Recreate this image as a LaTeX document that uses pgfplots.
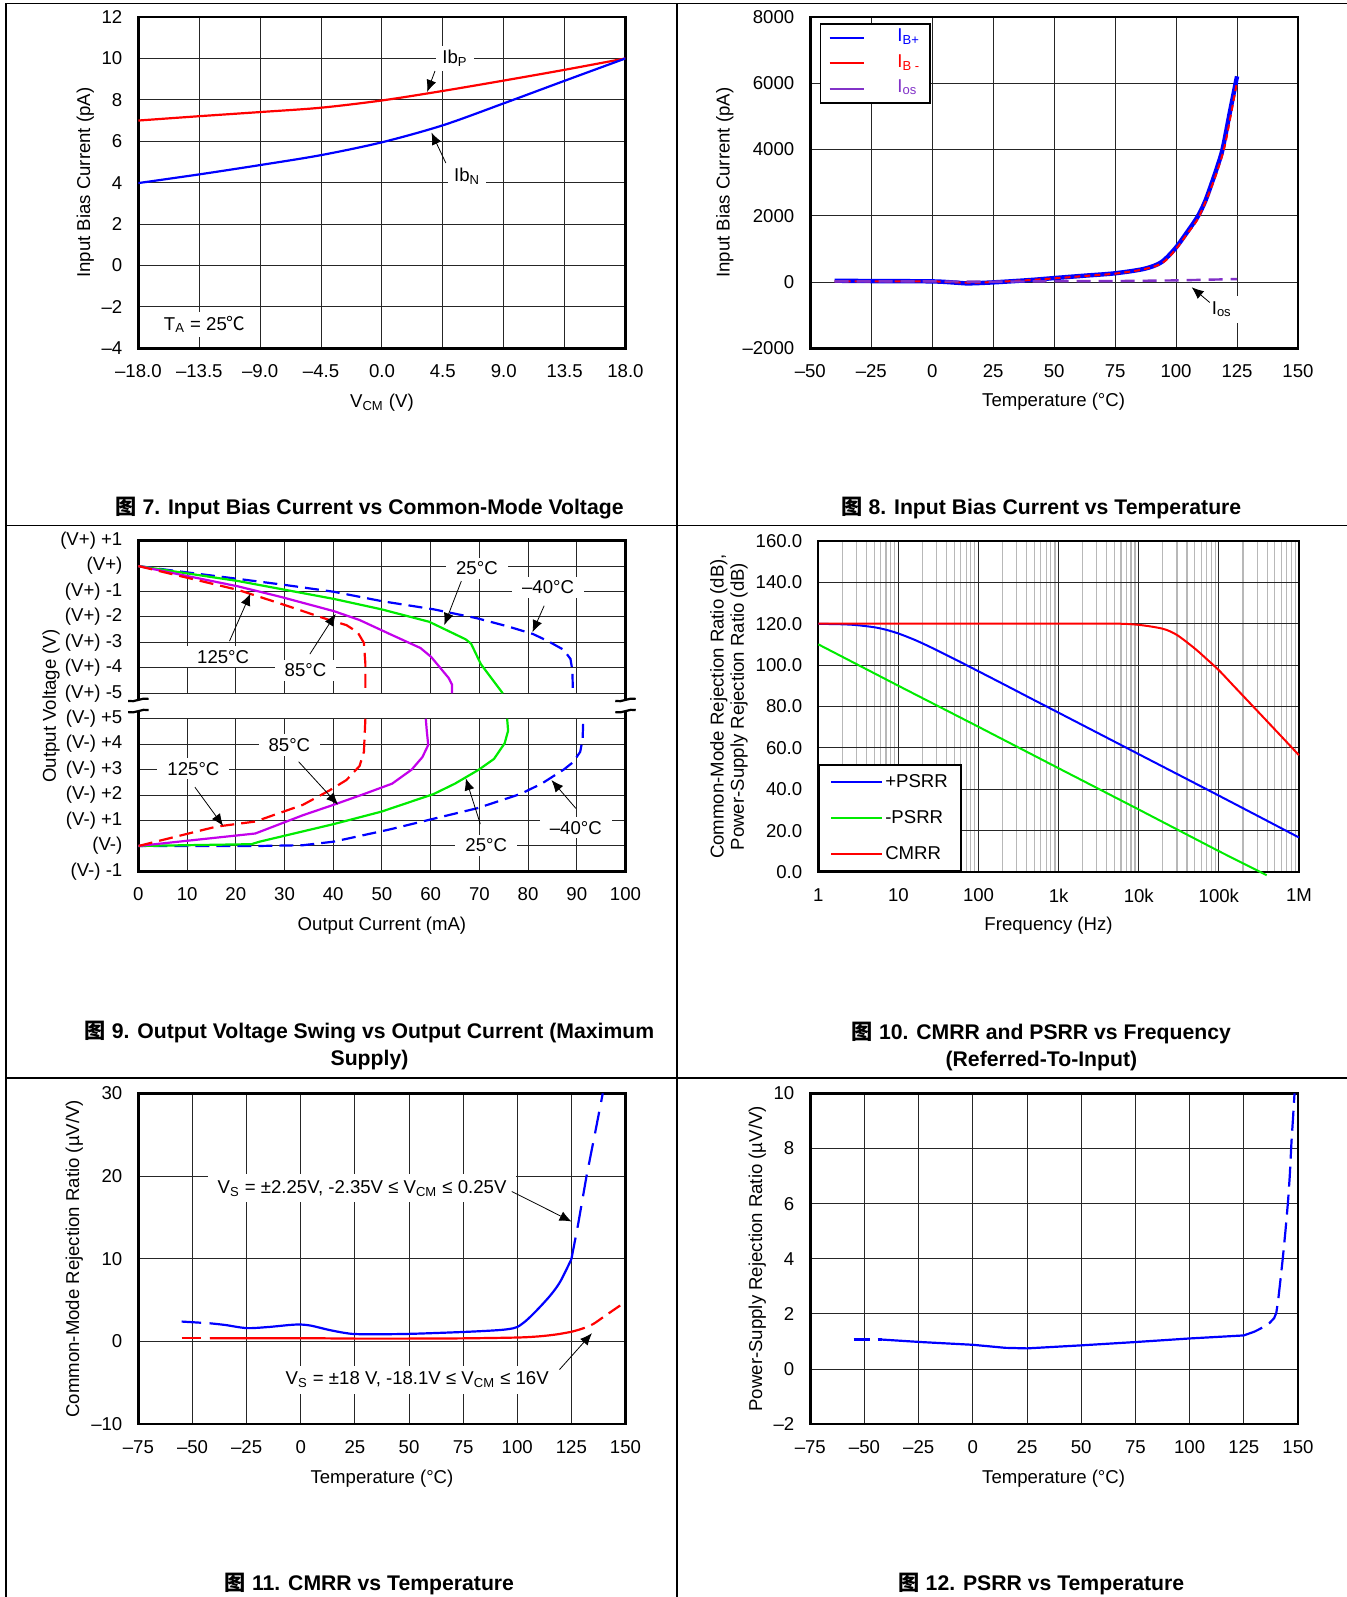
\documentclass[border=0pt]{standalone}
\usepackage{fontspec}
\setmainfont{Liberation Sans}
\newfontfamily\cjk{Noto Sans CJK SC}
\usepackage{pgfplots}
\pgfplotsset{compat=1.18}
\usetikzlibrary{arrows.meta}
\definecolor{cblue}{RGB}{0,0,255}
\definecolor{cred}{RGB}{255,0,0}
\definecolor{cgreen}{RGB}{0,235,0}
\definecolor{cviolet}{RGB}{195,0,235}
\definecolor{cpurple}{RGB}{130,50,200}
\newcommand{\fs}{\fontsize{9.3}{11}\selectfont}
\newcommand{\tfs}{\fontsize{10.6}{13.25}\selectfont\bfseries}
\pgfplotsset{
  refax/.style={
    scale only axis, anchor=south west,
    axis line style={line width=1.2pt},
    grid=major,
    major grid style={black!85, line width=0.5pt},
    major tick length=0pt, minor tick length=0pt,
    scaled ticks=false,
    ticklabel style={font=\fs},
    label style={font=\fs},
    yticklabel style={anchor=east, xshift=-4.5pt},
    xticklabel style={anchor=north, yshift=-4.6pt},
    xlabel style={anchor=center},
    ylabel style={anchor=center},
  },
}
\tikzset{
  ann/.style={fill=white, font=\fs, inner xsep=3pt, inner ysep=2pt},
  arr/.style={-{Latex[length=6pt,width=5pt]}, line width=0.4pt, black},
  brk/.style={line width=1.1pt, black},
}
\begin{document}
\begin{tikzpicture}
\path[use as bounding box] (0pt,0pt) rectangle (673.5pt,-798.5pt);
\fill[white] (0pt,0pt) rectangle (673.5pt,-798.5pt);
% table frame
\draw[line width=0.75pt] (3pt,-798.5pt) -- (3pt,-1.65pt) -- (673.5pt,-1.65pt);
\draw[line width=0.75pt] (338.5pt,-1.65pt) -- (338.5pt,-798.5pt);
\draw[line width=0.75pt] (3pt,-262.85pt) -- (673.5pt,-262.85pt);
\draw[line width=0.75pt] (3pt,-539pt) -- (673.5pt,-539pt);

% ================= Fig 7 =================
\begin{axis}[refax, at={(69.2pt,-174.15pt)}, width=243.55pt, height=165.65pt,
  xmin=-18, xmax=18, ymin=-4, ymax=12,
  xtick={-18,-13.5,-9,-4.5,0,4.5,9,13.5,18},
  xticklabels={–18.0,–13.5,–9.0,–4.5,0.0,4.5,9.0,13.5,18.0},
  ytick={-4,-2,0,2,4,6,8,10,12},
  yticklabels={–4,–2,0,2,4,6,8,10,12},
  xlabel={V\textsubscript{CM} (V)},
  ylabel={Input Bias Current (pA)},
  xlabel style={at={(axis description cs:0.5,-0.164)}},
  ylabel style={at={(axis description cs:-0.1088,0.5)}},
]
\addplot[cred, line width=1.1pt, smooth] coordinates {(-18,7.0) (-13.5,7.21) (-9,7.41) (-4.5,7.62) (0,7.97) (4.5,8.43) (9,8.93) (13.5,9.45) (18,10.0)};
\addplot[cblue, line width=1.1pt, smooth] coordinates {(-18,3.98) (-13.5,4.40) (-9,4.85) (-4.5,5.33) (0,5.95) (4.5,6.77) (9,7.83) (13.5,8.92) (18,10.0)};
\node[ann] at (axis cs:5.4,10) {Ib\textsubscript{P}};
\draw[arr] (axis cs:3.92,9.39) -- (axis cs:3.34,8.38);
\node[ann] at (axis cs:6.3,4.3) {Ib\textsubscript{N}};
\draw[arr] (axis cs:4.72,4.95) -- (axis cs:3.66,6.42);
\node[ann] at (axis cs:-13.1,-2.85) {T\textsubscript{A} = 25{\cjk ℃}};
\end{axis}

% ================= Fig 8 =================
\begin{axis}[refax, at={(405.15pt,-174.15pt)}, width=243.85pt, height=165.65pt,
  xmin=-50, xmax=150, ymin=-2000, ymax=8000,
  xtick={-50,-25,0,25,50,75,100,125,150},
  xticklabels={–50,–25,0,25,50,75,100,125,150},
  ytick={-2000,0,2000,4000,6000,8000},
  yticklabels={–2000,0,2000,4000,6000,8000},
  xlabel={Temperature (°C)}, ylabel={Input Bias Current (pA)},
  xlabel style={at={(axis description cs:0.499,-0.161)}},
  ylabel style={at={(axis description cs:-0.1753,0.5)}},
  legend style={at={(axis description cs:0.0195,0.982)}, anchor=north west, draw=black, line width=0.8pt, font=\fs, inner xsep=4pt, inner ysep=1.6pt, row sep=1.7pt, nodes={inner sep=1pt, text height=6.5pt, text depth=2.5pt}},
  legend cell align=left,
  legend image code/.code={\draw[#1, line width=0.9pt, solid] (0pt,0pt) -- (17pt,0pt);},
]
\addplot[cblue, line width=2.2pt, smooth] coordinates {(-40,40) (-25,30) (0,20) (10,-20) (15,-40) (25,-10) (40,60) (50,120) (62,190) (75,265) (87,400) (94,600) (99.6,1010) (104,1450) (108.9,1980) (112,2450) (114.7,3000) (117,3500) (119.1,4020) (122.1,5140) (125,6210)};
\addlegendentry{\hspace{15.5pt}\textcolor{cblue}{I\textsubscript{B+}}}
\addplot[cred, line width=1pt, dash pattern=on 3pt off 2pt, smooth] coordinates {(-40,20) (-25,20) (0,20) (10,-10) (15,-20) (25,0) (40,60) (50,110) (62,180) (75,255) (87,390) (94.5,580) (100,1000) (104.5,1450) (109.3,1960) (115.2,3000) (119.6,4000) (122.6,5100) (125,6050)};
\addlegendentry{\hspace{15.5pt}\textcolor{cred}{I\textsubscript{B -}}}
\addplot[cpurple, line width=1.2pt, dash pattern=on 7pt off 4pt] coordinates {(-40,20) (0,20) (25,10) (50,25) (75,30) (100,50) (125,90)};
\addlegendentry{\hspace{15.5pt}\textcolor{cpurple}{I\textsubscript{os}}}
\node[ann, inner xsep=4pt, inner ysep=3pt] at (axis cs:118.75,-823) {I\textsubscript{os}};
\draw[arr] (axis cs:113.8,-617) -- (axis cs:106.4,-157);
\end{axis}

% ================= Fig 9 =================
\begin{axis}[refax, at={(69.2pt,-435.7pt)}, width=243.55pt, height=165.4pt, clip=false,
  xmin=0, xmax=100, ymin=0, ymax=13,
  xtick={0,10,20,30,40,50,60,70,80,90,100},
  xticklabels={0,10,20,30,40,50,60,70,80,90,100},
  ytick={0,1,2,3,4,5,6,7,8,9,10,11,12,13},
  yticklabels={(V-) -1,(V-),(V-) +1,(V-) +2,(V-) +3,(V-) +4,(V-) +5,(V+) -5,(V+) -4,(V+) -3,(V+) -2,(V+) -1,(V+),(V+) +1},
  xlabel={Output Current (mA)}, ylabel={Output Voltage (V)},
  xlabel style={at={(axis description cs:0.5,-0.164)}},
  ylabel style={at={(axis description cs:-0.1794,0.5)}},
]
% -40 C
\addplot[cblue, line width=1.1pt, dash pattern=on 7pt off 3.5pt] coordinates {(0,12) (10,11.75) (20.3,11.50) (30,11.26) (40.1,10.99) (50,10.62) (60.6,10.30) (69.5,9.95) (76,9.62) (81,9.33) (84.1,9.05) (87.3,8.71) (88.7,8.35) (89.1,7.9) (89.2,7.0)};
\addplot[cblue, line width=1.1pt, dash pattern=on 7pt off 3.5pt] coordinates {(91.3,5.8) (91.2,5.2) (90.7,4.70) (89.3,4.3) (87.3,4.0) (82.8,3.45) (78.4,3.04) (69.5,2.48) (60.6,2.07) (51.6,1.65) (40.1,1.17) (33.8,1.03) (24.9,1.0) (0,1.0)};
% 25 C
\addplot[cgreen, line width=1.1pt] coordinates {(0,12) (20.5,11.41) (40.1,10.71) (49.9,10.30) (59.7,9.81) (67.2,9.12) (68.3,8.95) (70.3,8.15) (74.8,7.0)};
\addplot[cgreen, line width=1.1pt] coordinates {(75.7,6.0) (75.9,5.53) (75.2,5.04) (73.0,4.42) (69.9,4.0) (65.0,3.45) (60.6,3.04) (49.9,2.35) (40.1,1.86) (24.9,1.17) (23.2,1.07) (10,1.03) (0,1.0)};
% 85 C
\addplot[cviolet, line width=1.1pt] coordinates {(0,12) (20.5,11.2) (29.4,10.78) (40.1,10.23) (45.4,9.88) (51.6,9.33) (57.9,8.78) (60.1,8.43) (63.7,7.6) (64.4,7.33) (64.4,7.0)};
\addplot[cviolet, line width=1.1pt] coordinates {(59.0,6.0) (59.2,5.53) (59.5,4.97) (58.3,4.49) (56.1,4.0) (52.1,3.45) (46.3,3.04) (40.1,2.62) (33.8,2.21) (24.0,1.49) (0,1.0)};
% 125 C
\addplot[cred, line width=1.1pt, dash pattern=on 7pt off 3.5pt] coordinates {(0,12) (20.5,11.06) (29.4,10.51) (39.2,9.88) (42.7,9.68) (45,9.40) (46.3,8.98) (46.6,8.15) (46.6,7.0)};
\addplot[cred, line width=1.1pt, dash pattern=on 7pt off 3.5pt] coordinates {(46.6,6.0) (46.3,4.70) (45.4,4.14) (42.7,3.59) (39.2,3.18) (33.8,2.62) (24.0,1.96) (16.0,1.76) (0,1.0)};
% axis break
\fill[white] (axis cs:0.25,6.03) rectangle (axis cs:99.75,6.97);
\fill[white] (axis cs:-1.5,6.3) rectangle (axis cs:1.5,6.74);
\fill[white] (axis cs:98.5,6.3) rectangle (axis cs:101.5,6.74);
\draw[brk] (axis cs:-2.1,6.7) .. controls (axis cs:-0.8,6.62) and (axis cs:0.8,6.86) .. (axis cs:2.1,6.78);
\draw[brk] (axis cs:-2.1,6.26) .. controls (axis cs:-0.8,6.18) and (axis cs:0.8,6.42) .. (axis cs:2.1,6.34);
\draw[brk] (axis cs:97.9,6.7) .. controls (axis cs:99.2,6.62) and (axis cs:100.8,6.86) .. (axis cs:102.1,6.78);
\draw[brk] (axis cs:97.9,6.26) .. controls (axis cs:99.2,6.18) and (axis cs:100.8,6.42) .. (axis cs:102.1,6.34);
% annotations
\node[ann, inner xsep=5pt] at (axis cs:69.5,11.92) {25°C};
\draw[arr] (axis cs:66.3,11.41) -- (axis cs:62.8,9.68);
\node[ann, inner xsep=5pt] at (axis cs:84.1,11.16) {–40°C};
\draw[arr] (axis cs:83.3,10.44) -- (axis cs:80.9,9.40);
\node[ann, inner xsep=5pt] at (axis cs:17.4,8.43) {125°C};
\draw[arr] (axis cs:18.7,9.05) -- (axis cs:23.0,10.92);
\node[ann, inner xsep=5pt] at (axis cs:34.3,7.91) {85°C};
\draw[arr] (axis cs:35.2,8.54) -- (axis cs:40.5,10.12);
\node[ann, inner xsep=5pt] at (axis cs:31.0,4.97) {85°C};
\draw[arr] (axis cs:32.9,4.31) -- (axis cs:41.0,2.62);
\node[ann, inner xsep=5pt] at (axis cs:11.3,4.03) {125°C};
\draw[arr] (axis cs:11.6,3.31) -- (axis cs:17.4,1.79);
\node[ann, inner xsep=5pt] at (axis cs:71.4,1.03) {25°C};
\draw[arr] (axis cs:70.2,1.86) -- (axis cs:67.2,3.66);
\node[ann, inner xsep=5pt] at (axis cs:89.8,1.72) {–40°C};
\draw[arr] (axis cs:89.8,2.48) -- (axis cs:84.8,3.59);
\end{axis}

% ================= Fig 10 =================
\begin{axis}[refax, xmode=log, log basis x=10, at={(409.15pt,-436.15pt)}, width=240.35pt, height=165.8pt, clip=false,
  axis line style={line width=1pt},
  xmin=1, xmax=1000000, ymin=0, ymax=160,
  xtick={1,10,100,1000,10000,100000,1000000},
  xticklabels={1,10,100,1k,10k,100k,1M},
  minor xtick={2,3,4,5,6,7,8,9,20,30,40,50,60,70,80,90,200,300,400,500,600,700,800,900,2000,3000,4000,5000,6000,7000,8000,9000,20000,30000,40000,50000,60000,70000,80000,90000,200000,300000,400000,500000,600000,700000,800000,900000},
  ytick={0,20,40,60,80,100,120,140,160},
  yticklabels={0.0,20.0,40.0,60.0,80.0,100.0,120.0,140.0,160.0},
  grid=both,
  minor grid style={black!28, line width=0.6pt},
  major grid style={black!85, line width=0.5pt},
  xlabel={Frequency (Hz)},
  ylabel={Common-Mode Rejection Ratio (dB),\\Power-Supply Rejection Ratio (dB)},
  ylabel style={at={(axis description cs:-0.186,0.5)}, align=center, font=\fontsize{9.3}{10.2}\selectfont},
  xlabel style={at={(axis description cs:0.479,-0.161)}},
  legend style={at={(axis description cs:0,0)}, anchor=south west, draw=black, line width=1pt, font=\fs, inner xsep=5.5pt, inner ysep=3pt, row sep=7pt, nodes={inner sep=1pt, text height=7pt, text depth=2pt}},
  legend cell align=left,
  legend image code/.code={\draw[#1, line width=1pt, solid] (0pt,0pt) -- (25.5pt,0pt);},
]
\addplot[cblue, line width=1pt, smooth] coordinates {(1,119.9) (2,119.67) (3,119.28) (5,118.24) (7,117.04) (10,115.23) (15,112.6) (20,110.47) (30,107.22) (50,102.93) (70,100.06) (100,96.98) (200,91.0) (500,83.0) (1000,77.0) (10000,57.0) (100000,37.0) (1000000,16.8)};
\addlegendentry{+PSRR}
\addplot[cgreen, line width=1pt] coordinates {(1,110) (10,90) (100,70.2) (1000,50.2) (10000,30.3) (100000,10.2) (395000,-1.4)};
\addlegendentry{-PSRR}
\addplot[cred, line width=1pt, smooth] coordinates {(1,120) (100,120) (1000,120) (5000,120) (10000,119.4) (20000,117.5) (30000,114.5) (50000,108) (70000,103) (100000,97.5) (150000,90.3) (200000,85.2) (300000,78.0) (500000,68.9) (700000,62.9) (1000000,56.5)};
\addlegendentry{CMRR}
\end{axis}

% ================= Fig 11 =================
\begin{axis}[refax, at={(69.2pt,-712.1pt)}, width=243.55pt, height=165.45pt,
  xmin=-75, xmax=150, ymin=-10, ymax=30,
  xtick={-75,-50,-25,0,25,50,75,100,125,150},
  xticklabels={–75,–50,–25,0,25,50,75,100,125,150},
  ytick={-10,0,10,20,30},
  yticklabels={–10,0,10,20,30},
  xlabel={Temperature (°C)}, ylabel={Common-Mode Rejection Ratio (µV/V)},
  xlabel style={at={(axis description cs:0.5,-0.164)}},
  ylabel style={at={(axis description cs:-0.1316,0.5)}},
]
\addplot[cblue, line width=1.1pt, dash pattern=on 9.7pt off 4.3pt] coordinates {(-55,2.41) (-42,2.2)};
\addplot[cblue, line width=1.1pt, smooth] coordinates {(-42,2.2) (-35,2.0) (-25,1.62) (-15,1.75) (-5,2.0) (0,2.05) (5,1.9) (13,1.4) (20,1.05) (25,0.9) (35,0.88) (50,0.92) (75,1.15) (90,1.35) (96,1.5) (100,1.75) (104,2.5) (108,3.5) (112,4.6) (116,5.8) (120,7.3) (125,9.95)};
\addplot[cblue, line width=1.1pt, dash pattern=on 11pt off 5pt] coordinates {(125,9.95) (128,14) (132,20) (135.8,25) (139.5,30)};
\addplot[cred, line width=1.1pt, dash pattern=on 9.7pt off 4.3pt] coordinates {(-55,0.4) (-42,0.4)};
\addplot[cred, line width=1.1pt, smooth] coordinates {(-42,0.4) (0,0.4) (25,0.35) (50,0.35) (75,0.38) (100,0.48) (110,0.62) (118,0.85) (125,1.17)};
\addplot[cred, line width=1.1pt, dash pattern=on 7pt off 3.5pt, smooth] coordinates {(125,1.17) (130,1.55) (135,2.1) (140,3.0) (145,3.9) (150,4.8)};
\node[ann, inner xsep=5pt, inner ysep=3pt] at (axis cs:28.3,18.53) {V\textsubscript{S} = ±2.25V, -2.35V ≤ V\textsubscript{CM} ≤ 0.25V};
\draw[arr] (axis cs:97.5,18.13) -- (axis cs:125.1,14.5);
\node[ann, inner xsep=5pt, inner ysep=3pt] at (axis cs:53.8,-4.61) {V\textsubscript{S} = ±18 V, -18.1V ≤ V\textsubscript{CM} ≤ 16V};
\draw[arr] (axis cs:119.5,-3.4) -- (axis cs:134.5,1.0);
\end{axis}

% ================= Fig 12 =================
\begin{axis}[refax, at={(405.15pt,-712.1pt)}, width=243.85pt, height=165.45pt,
  xmin=-75, xmax=150, ymin=-2, ymax=10,
  xtick={-75,-50,-25,0,25,50,75,100,125,150},
  xticklabels={–75,–50,–25,0,25,50,75,100,125,150},
  ytick={-2,0,2,4,6,8,10},
  yticklabels={–2,0,2,4,6,8,10},
  xlabel={Temperature (°C)}, ylabel={Power-Supply Rejection Ratio (µV/V)},
  xlabel style={at={(axis description cs:0.499,-0.164)}},
  ylabel style={at={(axis description cs:-0.1085,0.5)}},
]
\addplot[cblue, line width=1.1pt, dash pattern=on 8pt off 4pt] coordinates {(-55,1.07) (-42,1.07)};
\addplot[cblue, line width=1.1pt] coordinates {(-42,1.07) (-24,0.98) (0,0.88) (15,0.77) (25,0.75) (50,0.86) (75,0.98) (100,1.11) (125,1.22)};
\addplot[cblue, line width=1.1pt, dash pattern=on 10pt off 4pt] coordinates {(125,1.22) (130,1.36) (134,1.52) (137,1.68) (139,1.85) (140,2.04) (141,2.6) (142,3.3) (143,4.03) (144.2,5) (145.4,6.08) (146.2,7) (147,8.25) (147.7,9.1) (148.4,10)};
\end{axis}

% titles
\node[font=\tfs] at (184.75pt,-254pt) {{\cjk 图} 7. Input Bias Current vs Common-Mode Voltage};
\node[font=\tfs] at (520.7pt,-254pt) {{\cjk 图} 8. Input Bias Current vs Temperature};
\node[font=\tfs, align=center] at (184.75pt,-522.7pt) {{\cjk 图} 9. Output Voltage Swing vs Output Current (Maximum\\Supply)};
\node[font=\tfs, align=center] at (520.7pt,-523.2pt) {{\cjk 图} 10. CMRR and PSRR vs Frequency\\(Referred-To-Input)};
\node[font=\tfs] at (184.75pt,-792pt) {{\cjk 图} 11. CMRR vs Temperature};
\node[font=\tfs] at (520.7pt,-792pt) {{\cjk 图} 12. PSRR vs Temperature};
\end{tikzpicture}
\end{document}
